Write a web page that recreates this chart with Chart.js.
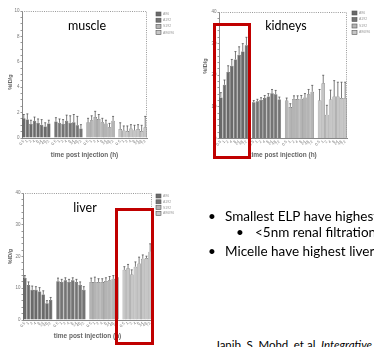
<!DOCTYPE html>
<html>
<head>
<meta charset="utf-8">
<script src="https://cdn.jsdelivr.net/npm/chart.js@4.4.1/dist/chart.umd.min.js"></script>
<style>
  html, body { margin: 0; padding: 0; background: #fff; }
  body { width: 374px; height: 347px; position: relative; overflow: hidden; font-family: Lato, 'Open Sans', sans-serif; }
  canvas { position: absolute; }
  .name { position: absolute; font-size: 12.5px; color: #000; transform: translate(-50%, -50%); white-space: nowrap; }
  .box { position: absolute; border: 3px solid #c00000; box-sizing: border-box; z-index: 2; }
  .bul { position: absolute; white-space: nowrap; font-size: 13.5px; line-height: 16px; color: #000; }
  .dot { position: absolute; }
  .cite { position: absolute; white-space: nowrap; font-size: 11.5px; color: #000; }
</style>
</head>
<body>
<canvas id="muscle" width="190" height="165" style="left:0;top:0"></canvas>
<canvas id="kidneys" width="184" height="165" style="left:190px;top:0"></canvas>
<canvas id="liver" width="190" height="172" style="left:0;top:175px"></canvas>

<div class="name" style="left:87px;top:25px">muscle</div>
<div class="name" style="left:286px;top:25px">kidneys</div>
<div class="name" style="left:85px;top:207px">liver</div>

<div class="box" style="left:213px;top:23px;width:38px;height:136px"></div>
<div class="box" style="left:115px;top:208px;width:39px;height:137px"></div>

<div class="bul" style="left:225px;top:208px"><span class="dot" style="left:-17px">•</span>Smallest ELP have highest kidney accumulation</div>
<div class="bul" style="left:255px;top:224px"><span class="dot" style="left:-19px">•</span>&lt;5nm renal filtration cutoff</div>
<div class="bul" style="left:225px;top:243px"><span class="dot" style="left:-17px">•</span>Micelle have highest liver accumulation</div>
<div class="cite" style="left:215px;top:338px">Janib, S. Mohd, et al. <i>Integrative Biology</i> (2014)</div>

<script>
const timeLabels = ['0.5', '1', '2', '4', '8', '24', '48', '72'];
const seriesNames = ['A96', 'A192', 'S192', 'A96I96'];

// %ID/g, one row per construct, eight time points each
const muscleMean = [
  [1.55, 1.45, 1.1, 1.35, 1.2, 1.05, 0.9, 1.15],
  [1.3, 1.2, 1.1, 1.35, 1.2, 1.25, 1.0, 0.75],
  [1.25, 1.4, 1.65, 1.5, 1.25, 1.15, 0.85, 1.35],
  [0.7, 0.6, 0.55, 0.75, 0.6, 0.7, 0.55, 0.85]
];
const muscleErr = [
  [0.3, 0.45, 0.3, 0.3, 0.3, 0.4, 0.3, 0.25],
  [0.3, 0.3, 0.35, 0.45, 0.55, 0.6, 0.7, 0.3],
  [0.3, 0.35, 0.45, 0.35, 0.3, 0.25, 0.3, 0.35],
  [0.5, 0.35, 0.4, 0.3, 0.4, 0.35, 0.45, 0.85]
];
const kidneyMean = [
  [13, 17, 21, 23, 25, 26.5, 27.5, 29.5],
  [11.5, 11.8, 12.2, 12.8, 13.3, 14.3, 14, 12.3],
  [12, 10, 12.5, 12.5, 12.6, 13, 14, 14.8],
  [12, 17.5, 7.5, 12.3, 13.3, 13.3, 12.8, 12.8]
];
const kidneyErr = [
  [1.5, 1.5, 2, 2, 2.5, 2.5, 2.5, 2.5],
  [0.5, 0.6, 0.7, 0.8, 0.9, 1.2, 1.2, 0.8],
  [0.8, 1, 1, 1, 1, 1.2, 1.5, 2],
  [3.5, 2.5, 3, 3, 5, 4.5, 5, 5]
];
const liverMean = [
  [13.2, 11, 9.5, 9.5, 9, 8, 5.3, 6.3],
  [12.2, 12, 12.5, 12, 12.5, 12, 11, 9.5],
  [12, 12, 12, 12, 12.3, 12.5, 13, 13.5],
  [15.8, 16.3, 14.3, 16.8, 17.8, 19.3, 19.5, 21.5]
];
const liverErr = [
  [0.8, 1, 1.2, 1, 1.2, 1.2, 0.8, 0.8],
  [1, 0.8, 0.8, 0.8, 0.8, 0.8, 1, 1],
  [1.2, 1.5, 1, 1, 1, 1.2, 1, 1],
  [1, 1.2, 1.5, 1.5, 2, 1.2, 0.6, 2.5]
];

const fills = ['#6a6a6a', '#747474', '#b4b4b4', '#c6c6c6'];

// one empty slot between the construct blocks
function buildLabels() {
  const out = [];
  seriesNames.forEach((s, g) => {
    if (g > 0) out.push('');
    timeLabels.forEach((t) => out.push(t));
  });
  return out;
}
function spread(rows, g) {
  const arr = [];
  rows.forEach((vals, k) => {
    if (k > 0) arr.push(null);
    vals.forEach((v) => arr.push(k === g ? v : null));
  });
  return arr;
}

const errorBars = {
  id: 'errorBars',
  afterDatasetsDraw(chart) {
    const ctx = chart.ctx;
    const y = chart.scales.y;
    chart.data.datasets.forEach((ds, i) => {
      const meta = chart.getDatasetMeta(i);
      ds.data.forEach((v, j) => {
        if (v == null) return;
        const bar = meta.data[j];
        const top = y.getPixelForValue(v + ds.errors[j]);
        ctx.save();
        ctx.strokeStyle = '#444';
        ctx.lineWidth = 0.7;
        ctx.beginPath();
        ctx.moveTo(bar.x, bar.y);
        ctx.lineTo(bar.x, top);
        ctx.moveTo(bar.x - 1, top);
        ctx.lineTo(bar.x + 1, top);
        ctx.stroke();
        ctx.restore();
      });
    });
  }
};

const frame = {
  id: 'frame',
  afterDraw(chart) {
    const { left, top, right, bottom } = chart.chartArea;
    const ctx = chart.ctx;
    ctx.save();
    ctx.strokeStyle = '#999';
    ctx.lineWidth = 1;
    ctx.setLineDash([1, 1.2]);
    ctx.beginPath();
    ctx.moveTo(left, top + 0.5);
    ctx.lineTo(right - 0.5, top + 0.5);
    ctx.lineTo(right - 0.5, bottom);
    ctx.stroke();
    ctx.restore();
  }
};

const miniLegend = {
  id: 'miniLegend',
  afterDraw(chart, args, opts) {
    const ctx = chart.ctx;
    const x = chart.chartArea.right + opts.dx;
    const y0 = chart.chartArea.top + opts.dy;
    ctx.save();
    chart.data.datasets.forEach((ds, i) => {
      const y = y0 + i * opts.step;
      ctx.fillStyle = ds.backgroundColor;
      ctx.fillRect(x, y, 5, 4);
      ctx.strokeStyle = '#555';
      ctx.lineWidth = 0.6;
      ctx.strokeRect(x, y, 5, 4);
      ctx.fillStyle = '#999';
      ctx.font = '3.5px Arial';
      ctx.textBaseline = 'middle';
      ctx.fillText(ds.label, x + 7, y + 2);
    });
    ctx.restore();
  }
};

function makeChart(id, means, errs, s) {
  return new Chart(document.getElementById(id), {
    type: 'bar',
    data: {
      labels: buildLabels(),
      datasets: seriesNames.map((name, g) => ({
        label: name,
        data: spread(means, g),
        errors: spread(errs, g),
        backgroundColor: fills[g],
        borderColor: '#3c3c3c',
        borderWidth: 0.5,
        barPercentage: 0.95,
        categoryPercentage: 1,
        grouped: false
      }))
    },
    options: {
      responsive: false,
      animation: false,
      devicePixelRatio: 1,
      layout: { padding: s.pad },
      plugins: {
        legend: { display: false },
        tooltip: { enabled: false },
        miniLegend: { dx: s.legDx, dy: s.legDy, step: s.legStep }
      },
      scales: {
        x: {
          grid: { display: false, drawTicks: false },
          border: { color: '#888', width: 1 },
          ticks: { autoSkip: false, minRotation: 45, maxRotation: 45, padding: 1, color: '#777', font: { size: 4, family: 'Arial' } },
          title: { display: true, text: 'time post injection (h)', color: '#666', font: { size: 6.5, weight: 'bold', family: 'Arial' }, padding: { top: 0, bottom: s.xTitlePad } },
          afterFit(sc) { sc.height = s.xH; }
        },
        y: {
          min: 0,
          max: s.max,
          ticks: {
            stepSize: s.step,
            maxTicksLimit: 100,
            autoSkip: false,
            padding: 1,
            color: '#777',
            font: { size: 4.5, family: 'Arial' },
            callback: (v) => (v % s.major === 0 ? v : '')
          },
          grid: { display: true, drawOnChartArea: false, tickLength: 1.5, color: '#999' },
          border: { color: '#888', width: 1 },
          title: { display: true, text: s.yTitle, color: '#666', font: { size: 5.5, weight: 'bold', family: 'Arial' }, padding: { top: s.yTitlePad, bottom: 0 } },
          afterFit(sc) { sc.width = s.yW; }
        }
      }
    },
    plugins: [errorBars, frame, miniLegend]
  });
}

makeChart('muscle', muscleMean, muscleErr, {
  pad: { left: 2, top: 11, right: 43, bottom: 0 },
  yW: 20, xH: 27, xTitlePad: 6, yTitlePad: 5, yTitle: '%ID/g          ',
  max: 10, step: 0.5, major: 2,
  legDx: 9, legDy: 1, legStep: 6.2
});
makeChart('kidneys', kidneyMean, kidneyErr, {
  pad: { left: 2, top: 12, right: 27, bottom: 0 },
  yW: 27, xH: 26.5, xTitlePad: 6, yTitlePad: 10, yTitle: '            %ID/g',
  max: 40, step: 2, major: 10,
  legDx: 5, legDy: -1, legStep: 6.5
});
makeChart('liver', liverMean, liverErr, {
  pad: { left: 2, top: 18, right: 38, bottom: 0 },
  yW: 21, xH: 27, xTitlePad: 6.4, yTitlePad: 5, yTitle: '%ID/g',
  max: 40, step: 2, major: 10,
  legDx: 4, legDy: 1, legStep: 5.8
});
</script>
</body>
</html>
